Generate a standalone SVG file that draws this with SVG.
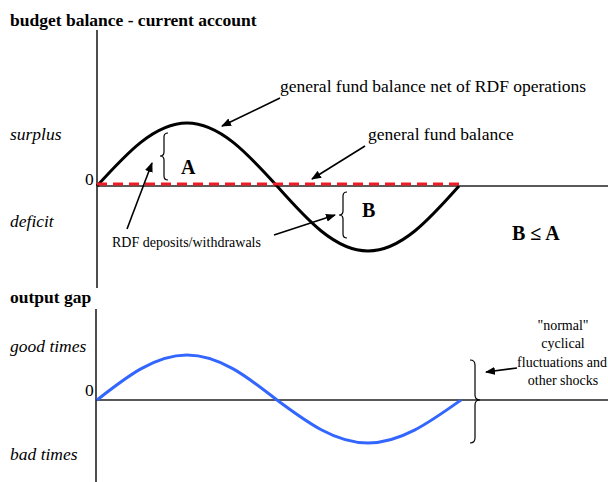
<svg xmlns="http://www.w3.org/2000/svg" width="608" height="482" viewBox="0 0 608 482">
<style>
text{font-family:"Liberation Serif","Times New Roman",serif;fill:#000}
.h{font-weight:bold;font-size:17.5px}
.i{font-style:italic;font-size:17.5px}
.n{font-size:17.5px}
.s{font-size:14px}
.b{font-weight:bold;font-size:20px}
.axis{stroke:#222;stroke-width:1.6;fill:none}
.curve{stroke:#000;stroke-width:3;fill:none}
.blue{stroke:#3366ff;stroke-width:3;fill:none}
.red{stroke:#ee1c24;stroke-width:3;stroke-dasharray:10 6;fill:none}
.brace{stroke:#000;stroke-width:1.2;fill:none}
.arr{stroke:#000;stroke-width:1.6;fill:none;marker-end:url(#ah)}
</style>
<defs>
<marker id="ah" markerWidth="10" markerHeight="8" refX="9" refY="4" orient="auto" markerUnits="userSpaceOnUse">
<path d="M0,0 L10,4 L0,8 z" fill="#000"/>
</marker>
</defs>
<g id="top-chart">
<text class="h" x="10" y="26">budget balance - current account</text>
<line class="axis" x1="97" y1="30" x2="97" y2="288"/>
<line class="axis" x1="97" y1="186" x2="608" y2="186"/>
<text class="i" x="10" y="140">surplus</text>
<text class="i" x="10" y="227">deficit</text>
<text class="n" x="85" y="185">0</text>
</g>
<g id="curve-net">
<path class="curve" d="M97,186 C126.3,153.7 154.5,123 187,123 C219.5,123 247.7,153.7 277,186 C306.6,219.3 335,251 368,251 C401,251 429.4,219.3 459,186"/>
</g>
<g id="line-gfb">
<line class="red" x1="97" y1="184" x2="459" y2="184"/>
</g>
<g id="brace-A">
<path class="brace" d="M168,133 Q164,133 164,137 L164,152 Q164,156 160,156 Q164,156 164,160 L164,176 Q164,180 168,180"/>
<text class="b" x="181" y="174">A</text>
</g>
<g id="brace-B">
<path class="brace" d="M347,192 Q343,192 343,196 L343,211 Q343,215 339,215 Q343,215 343,219 L343,234 Q343,238 347,238"/>
<text class="b" x="362" y="217">B</text>
</g>
<g id="label-net"><text class="n" x="280" y="92">general fund balance net of RDF operations</text></g>
<g id="label-gfb"><text class="n" x="368" y="140">general fund balance</text></g>
<g id="label-rdf"><text class="s" x="112" y="247">RDF deposits/withdrawals</text></g>
<g id="label-ba"><text class="b" x="512" y="240">B ≤ A</text></g>
<g id="bottom-chart">
<text class="h" x="10" y="303">output gap</text>
<line class="axis" x1="96" y1="309" x2="96" y2="482"/>
<line class="axis" x1="96" y1="400" x2="608" y2="400"/>
<text class="i" x="10" y="352">good times</text>
<text class="i" x="10" y="460">bad times</text>
<text class="n" x="85" y="396">0</text>
</g>
<g id="curve-gap">
<path class="blue" d="M97,400 C126.3,377 154.5,355 187,355 C219.5,355 247.7,377 277,400 C306.6,422 335,443 368,443 C401,443 430,422 461,400"/>
</g>
<g id="brace-shocks">
<path class="brace" d="M470,360 Q475,360 475,365 L475,395 Q475,400 480,400 Q475,400 475,405 L475,438 Q475,443 470,443"/>
</g>
<g id="label-shocks" text-anchor="middle">
<text class="s" x="563" y="330">"normal"</text>
<text class="s" x="563" y="348">cyclical</text>
<text class="s" x="562" y="367">fluctuations and</text>
<text class="s" x="563" y="385">other shocks</text>
</g>
<g id="connectors">
<line class="arr" x1="280" y1="98" x2="222" y2="126"/>
<line class="arr" x1="365" y1="146" x2="312" y2="179"/>
<line class="arr" x1="127" y1="229" x2="152" y2="163"/>
<line class="arr" x1="274" y1="235" x2="335" y2="215"/>
<line class="arr" x1="517" y1="368" x2="486" y2="372"/>
</g>
</svg>
